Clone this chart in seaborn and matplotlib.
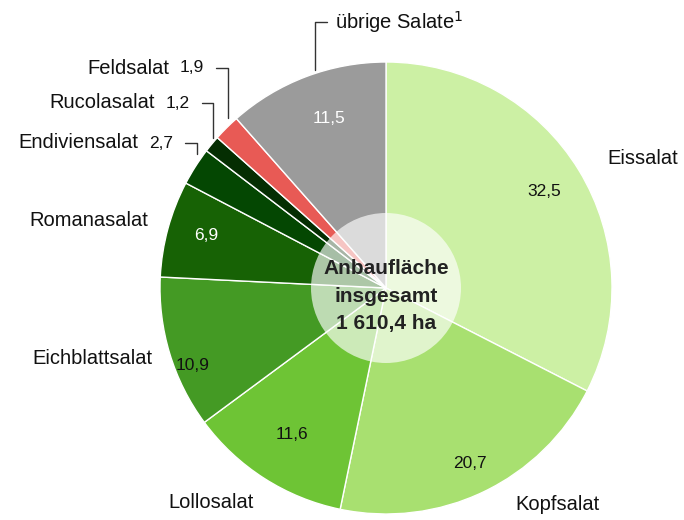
import numpy as np
import seaborn as sns
import matplotlib.pyplot as plt
from matplotlib.patches import Circle

# Daten (Anteile in %)
sorten = ['Eissalat', 'Kopfsalat', 'Lollosalat', 'Eichblattsalat', 'Romanasalat',
          'Endiviensalat', 'Rucolasalat', 'Feldsalat', 'übrige Salate']
anteile = [32.5, 20.7, 11.6, 10.9, 6.9, 2.7, 1.2, 1.9, 11.5]
werte_text = ['32,5', '20,7', '11,6', '10,9', '6,9', '2,7', '1,2', '1,9', '11,5']
farben = ['#ccf0a4', '#a8e070', '#6ec435', '#449a24', '#176205',
          '#044702', '#052e02', '#e85a55', '#9b9b9b']
gesamt = '1 610,4 ha'

sns.set_theme(style='white')
plt.rcParams['font.family'] = ['Liberation Sans', 'DejaVu Sans']

fig = plt.figure(figsize=(6.84, 5.2), dpi=100)
ax = fig.add_axes([0, 0, 1, 1])

cx, cy, R = 386, 232, 226
wedges, _ = ax.pie(anteile, colors=farben, startangle=90, counterclock=False,
                   center=(cx, cy), radius=R,
                   wedgeprops=dict(edgecolor='white', linewidth=1))
ax.set_xlim(0, 684)
ax.set_ylim(0, 520)
ax.set_aspect('auto')
ax.axis('off')

# Werte in den Segmenten
r_frac = [0.82, 0.86, 0.77, 0.92, 0.83, None, None, None, 0.79]
ang_off = [0, 0, 0, 5, -1, 0, 0, 0, -2]
txt_col = ['#111111', '#111111', '#111111', '#111111', 'white', None, None, None, 'white']
for w, t, rf, da, c in zip(wedges, werte_text, r_frac, ang_off, txt_col):
    if rf is None:
        continue
    ang = np.deg2rad((w.theta1 + w.theta2) / 2 + da)
    ax.text(cx + rf * R * np.cos(ang), cy + rf * R * np.sin(ang), t,
            ha='center', va='center', fontsize=12.5, color=c)

# Beschriftungen grosse Segmente
fs = 14.5
ax.text(607, 520 - 159, 'Eissalat', fontsize=fs, ha='left', va='center', color='#111111')
ax.text(515, 520 - 505, 'Kopfsalat', fontsize=fs, ha='left', va='center', color='#111111')
ax.text(168, 520 - 503, 'Lollosalat', fontsize=fs, ha='left', va='center', color='#111111')
ax.text(153, 520 - 358, 'Eichblattsalat', fontsize=fs, ha='right', va='center', color='#111111')
ax.text(148, 520 - 220, 'Romanasalat', fontsize=fs, ha='right', va='center', color='#111111')

# kleine Segmente mit Fuehrungslinien
klein = [('Endiviensalat', '2,7', 143, 185, 197, 154),
         ('Rucolasalat', '1,2', 103, 202, 213, 138),
         ('Feldsalat', '1,9', 68, 216, 228, 118)]
for name, wert, y, x0, x1, y1 in klein:
    ax.text(x0 - 12, 520 - y, wert, fontsize=12.5, ha='right', va='center', color='#111111')
    ax.text(x0 - 47, 520 - y, name, fontsize=fs, ha='right', va='center', color='#111111')
    ax.plot([x0, x1, x1], [520 - y, 520 - y, 520 - y1], color='#333333', lw=1)

ax.text(335, 520 - 22, 'übrige Salate$^1$', fontsize=fs, ha='left', va='center', color='#111111')
ax.plot([327, 315, 315], [520 - 22, 520 - 22, 520 - 70], color='#333333', lw=1)

# Kreis in der Mitte
ax.add_patch(Circle((cx, cy), 75, facecolor='white', alpha=0.65, edgecolor='none', zorder=3))
ax.text(cx, cy - 8, 'Anbaufläche\ninsgesamt\n' + gesamt, ha='center', va='center',
        fontsize=15, fontweight='bold', color='#222222', linespacing=1.6, zorder=4)

fig.savefig('out.png', dpi=100)
